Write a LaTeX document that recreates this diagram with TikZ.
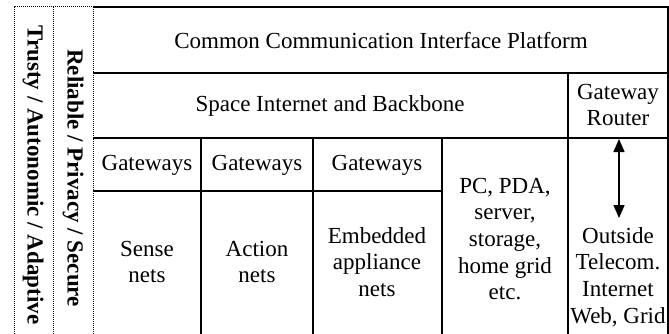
\documentclass[tikz,border=0pt]{standalone}
\usepackage{fontspec}
\setmainfont{Liberation Serif}
\usetikzlibrary{arrows.meta}
\begin{document}
\begin{tikzpicture}[x=1pt,y=-1pt,
  grid/.style={line width=1.5pt},
  dotbox/.style={line width=1pt, densely dotted},
  txt/.style={font=\fontsize{23}{26.7}\selectfont, align=center, inner sep=0pt},
  side/.style={font=\fontsize{23}{27}\selectfont\bfseries, rotate=-90, inner sep=0pt},
  arr/.style={line width=1.5pt, {Stealth[length=13pt,width=11pt,inset=0pt]}-{Stealth[length=13pt,width=11pt,inset=0pt]}}]
\useasboundingbox (0,0) rectangle (669,334);
% dotted side bands
\draw[dotbox] (14,340) -- (14,7) -- (93,7) -- (93,340);
\draw[dotbox] (53,7) -- (53,340);
% table grid
\draw[grid] (93,7) -- (668,7) -- (668,340);
\draw[grid] (93,73) -- (668,73);
\draw[grid] (93,138) -- (668,138);
\draw[grid] (93,191) -- (442,191);
\draw[grid] (201,138) -- (201,340);
\draw[grid] (313,138) -- (313,340);
\draw[grid] (442,138) -- (442,340);
\draw[grid] (568,73) -- (568,340);
% texts
\node[side] (tr) at (33,175) {Trusty / Autonomic / Adaptive};
\node[side] (rel) at (73,178) {Reliable / Privacy / Secure};
\node[txt] (ccip) at (381,41) {Common Communication Interface Platform};
\node[txt] (sib) at (330,106) {Space Internet and Backbone};
\node[txt] (gr) at (618,105) {Gateway\\Router};
\node[txt] (g1) at (147,165) {Gateways};
\node[txt] (g2) at (257,165) {Gateways};
\node[txt] (g3) at (377,165) {Gateways};
\node[txt] (sn) at (147,262) {Sense\\nets};
\node[txt] (an) at (257,262) {Action\\nets};
\node[txt] (ea) at (377,262) {Embedded\\appliance\\nets};
\node[txt] (pc) at (505,239) {PC, PDA,\\server,\\storage,\\home grid\\etc.};
\node[txt] (out) at (618,277) {Outside\\Telecom.\\Internet\\Web, Grid};
\coordinate (a1) at (619,139);
\coordinate (a2) at (619,218);
\draw[arr] (a1) -- (a2);
\end{tikzpicture}
\end{document}
